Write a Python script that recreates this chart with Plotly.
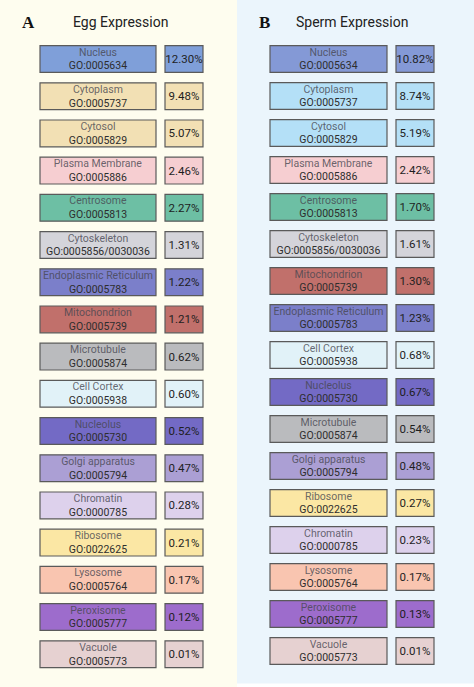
import plotly.graph_objects as go

# cellular component -> GO id
go_ids = {
    "Nucleus": "GO:0005634",
    "Cytoplasm": "GO:0005737",
    "Cytosol": "GO:0005829",
    "Plasma Membrane": "GO:0005886",
    "Centrosome": "GO:0005813",
    "Cytoskeleton": "GO:0005856/0030036",
    "Endoplasmic Reticulum": "GO:0005783",
    "Mitochondrion": "GO:0005739",
    "Microtubule": "GO:0005874",
    "Cell Cortex": "GO:0005938",
    "Nucleolus": "GO:0005730",
    "Golgi apparatus": "GO:0005794",
    "Chromatin": "GO:0000785",
    "Ribosome": "GO:0022625",
    "Lysosome": "GO:0005764",
    "Peroxisome": "GO:0005777",
    "Vacuole": "GO:0005773",
}

egg_terms = ["Nucleus", "Cytoplasm", "Cytosol", "Plasma Membrane", "Centrosome",
             "Cytoskeleton", "Endoplasmic Reticulum", "Mitochondrion", "Microtubule",
             "Cell Cortex", "Nucleolus", "Golgi apparatus", "Chromatin", "Ribosome",
             "Lysosome", "Peroxisome", "Vacuole"]
egg_pct = [12.30, 9.48, 5.07, 2.46, 2.27, 1.31, 1.22, 1.21, 0.62, 0.60, 0.52,
           0.47, 0.28, 0.21, 0.17, 0.12, 0.01]

sperm_terms = ["Nucleus", "Cytoplasm", "Cytosol", "Plasma Membrane", "Centrosome",
               "Cytoskeleton", "Mitochondrion", "Endoplasmic Reticulum", "Cell Cortex",
               "Nucleolus", "Microtubule", "Golgi apparatus", "Ribosome", "Chromatin",
               "Lysosome", "Peroxisome", "Vacuole"]
sperm_pct = [10.82, 8.74, 5.19, 2.42, 1.70, 1.61, 1.30, 1.23, 0.68, 0.67, 0.54,
             0.48, 0.27, 0.23, 0.17, 0.13, 0.01]

colors = {
    "Nucleus": "#7f9fd9",
    "Cytoplasm": "#f2e0b4",
    "Cytosol": "#f2e0b4",
    "Plasma Membrane": "#f6ced1",
    "Centrosome": "#6dbfa4",
    "Cytoskeleton": "#d4d4da",
    "Endoplasmic Reticulum": "#7b7fca",
    "Mitochondrion": "#c1706b",
    "Microtubule": "#babbbe",
    "Cell Cortex": "#e1f2f8",
    "Nucleolus": "#736ac5",
    "Golgi apparatus": "#ab9fd4",
    "Chromatin": "#ddd1ec",
    "Ribosome": "#fbe7a4",
    "Lysosome": "#f9c5b0",
    "Peroxisome": "#9d6ccc",
    "Vacuole": "#e6d1d1",
}
sperm_colors = dict(colors, Nucleus="#8499d6", Cytoplasm="#b4e0f7", Cytosol="#b4e0f7")

W, H = 474, 687
FONT = "Roboto"
EDGE = dict(color="#5a5a5a", width=1.2)


def label(term):
    return ("<span style='color:rgba(70,70,80,0.8)'>%s</span><br>"
            "<span style='color:#2e2e2e'>%s</span>" % (term, go_ids[term]))


def panel(fig, terms, pct, cmap, xa, ya, name_x, name_w, pct_x, pct_w):
    rows = list(range(len(terms)))
    fig.add_trace(go.Bar(
        orientation="h", y=rows, x=[name_w] * len(rows), base=[name_x] * len(rows),
        width=0.72, marker=dict(color=[cmap[t] for t in terms], line=EDGE),
        text=[label(t) for t in terms], textposition="inside",
        insidetextanchor="middle", constraintext="none", textangle=0,
        textfont=dict(family=FONT, size=10.5, color="#333"),
        xaxis=xa, yaxis=ya, hoverinfo="skip", showlegend=False))
    fig.add_trace(go.Bar(
        orientation="h", y=rows, x=[pct_w] * len(rows), base=[pct_x] * len(rows),
        width=0.72, marker=dict(color=[cmap[t] for t in terms], line=EDGE),
        text=["%.2f%%" % v for v in pct], textposition="inside",
        insidetextanchor="middle", constraintext="none", textangle=0,
        textfont=dict(family=FONT, size=11.5, color="#1e1e1e"),
        xaxis=xa, yaxis=ya, hoverinfo="skip", showlegend=False))


fig = go.Figure()
panel(fig, egg_terms, egg_pct, colors, "x", "y", 40, 116, 165, 38)
panel(fig, sperm_terms, sperm_pct, sperm_colors, "x2", "y2", 270, 117, 396, 38)

# row centre in pixels: first at 59, spacing ~37
def yrange(first, step):
    return [(H - first) / step, -first / step]

ax = dict(showgrid=False, zeroline=False, showticklabels=False, fixedrange=True)
head = dict(xref="paper", yref="paper", showarrow=False, xanchor="center",
            yanchor="middle", y=1 - 22 / H)
fig.update_layout(
    width=W, height=H, margin=dict(l=0, r=0, t=0, b=0),
    paper_bgcolor="white", plot_bgcolor="rgba(0,0,0,0)",
    barmode="overlay",
    xaxis=dict(ax, domain=[0, 0.5], range=[0, 237]),
    yaxis=dict(ax, domain=[0, 1], range=yrange(59, 37.2)),
    xaxis2=dict(ax, domain=[0.5, 1], range=[237, 474]),
    yaxis2=dict(ax, domain=[0, 1], range=yrange(59, 37.0), anchor="x2"),
    shapes=[
        dict(type="rect", xref="paper", yref="paper", x0=0, x1=0.5, y0=0, y1=1,
             fillcolor="#fefdef", line_width=0, layer="below"),
        dict(type="rect", xref="paper", yref="paper", x0=0.5, x1=1, y0=0.005, y1=1,
             fillcolor="#ebf5fc", line_width=0, layer="below"),
    ],
    annotations=[
        dict(head, text="<b>A</b>", x=28 / W,
             font=dict(family="Liberation Serif", size=17, color="#111")),
        dict(head, text="Egg Expression", x=120 / W,
             font=dict(family=FONT, size=14, color="#222")),
        dict(head, text="<b>B</b>", x=264 / W,
             font=dict(family="Liberation Serif", size=17, color="#111")),
        dict(head, text="Sperm Expression", x=352 / W,
             font=dict(family=FONT, size=14, color="#222")),
    ],
)

fig.write_html("out.html", config={"displayModeBar": False},
               post_script="document.body.style.margin='0';"
                           "document.body.style.overflow='hidden';")
